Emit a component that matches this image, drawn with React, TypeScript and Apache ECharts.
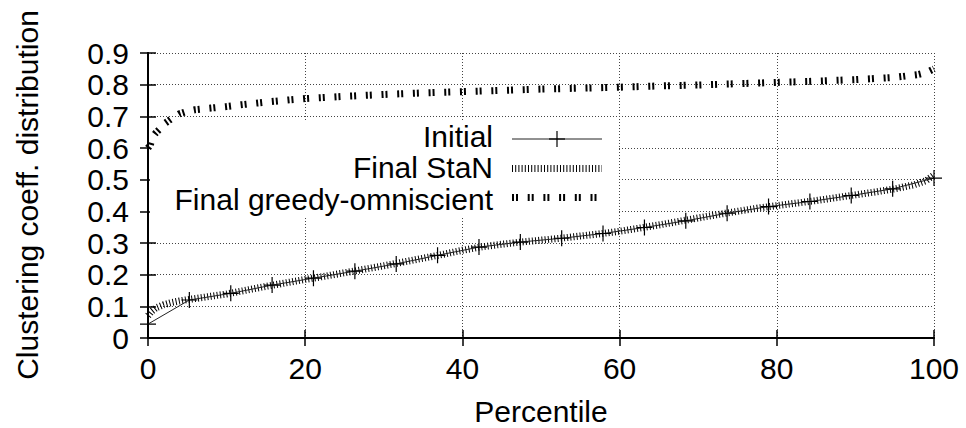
import React, { useEffect, useRef } from "react";
import * as echarts from "echarts";

// ---- data ----
const initialX = [0, 5.26, 10.53, 15.79, 21.05, 26.32, 31.58, 36.84, 42.11, 47.37, 52.63, 57.89, 63.16, 68.42, 73.68, 78.95, 84.21, 89.47, 94.74, 100];
const initialY = [0.044, 0.12, 0.141, 0.167, 0.189, 0.211, 0.234, 0.261, 0.287, 0.303, 0.315, 0.33, 0.349, 0.37, 0.394, 0.415, 0.431, 0.45, 0.471, 0.505];

const stanX = [0, 0.5, 1, 2, 3, 4, 5, 7.5, 10, 12.5, 15, 17.5, 20, 22.5, 25, 27.5, 30, 32.5, 35, 37.5, 40, 42.5, 45, 47.5, 50, 52.5, 55, 57.5, 60, 62.5, 65, 67.5, 70, 72.5, 75, 77.5, 80, 82.5, 85, 87.5, 90, 92.5, 95, 97.5, 99, 100];
const stanY = [0.07, 0.085, 0.095, 0.105, 0.112, 0.117, 0.121, 0.13, 0.139, 0.151, 0.163, 0.174, 0.185, 0.195, 0.206, 0.217, 0.228, 0.24, 0.252, 0.264, 0.277, 0.288, 0.296, 0.303, 0.309, 0.315, 0.322, 0.329, 0.337, 0.347, 0.357, 0.368, 0.379, 0.39, 0.4, 0.41, 0.418, 0.426, 0.434, 0.443, 0.452, 0.461, 0.471, 0.484, 0.497, 0.515];

const greedyX = [0, 0.3, 0.6, 1, 1.5, 2, 3, 4, 5, 6, 8, 10, 12, 15, 18, 20, 25, 30, 35, 40, 45, 50, 55, 60, 65, 70, 75, 80, 85, 90, 95, 98, 99, 100];
const greedyY = [0.6, 0.61, 0.635, 0.648, 0.66, 0.675, 0.693, 0.708, 0.716, 0.721, 0.726, 0.731, 0.737, 0.745, 0.752, 0.756, 0.763, 0.769, 0.774, 0.778, 0.782, 0.786, 0.789, 0.792, 0.796, 0.799, 0.803, 0.807, 0.811, 0.816, 0.823, 0.832, 0.838, 0.85];

const seriesNames = ["Initial", "Final StaN", "Final greedy-omniscient"];
const xTitle = "Percentile";
const yTitle = "Clustering coeff. distribution";

const FONT = '"Liberation Sans", Arial, Helvetica, sans-serif';
const CROSS = "path://M7.4,0H8.6V7.4H16V8.6H8.6V16H7.4V8.6H0V7.4H7.4Z";
const STAN_DASH = [1, 2.2];
const GREEDY_DASH = [2, 2, 2, 9.7];

const zip = (xs: number[], ys: number[]) => xs.map((x, i) => [x, ys[i]]);

export default function App() {
  const ref = useRef<HTMLDivElement>(null);
  useEffect(() => {
    document.body.style.margin = "0";
    if (!ref.current) return;
    const chart = echarts.init(ref.current, null, { renderer: "svg" });
    const axisLine = { show: true, lineStyle: { color: "#000", width: 2 } };
    const tick = { show: true, inside: true, length: 8, lineStyle: { color: "#000", width: 1.5 } };
    const grid = { show: true, lineStyle: { color: "#444", width: 1, type: [1, 2] } };
    const xBase = { type: "value", min: 0, max: 100, interval: 20 };
    const yBase = { type: "value", min: 0, max: 0.9, interval: 0.1 };
    const legendTextStyle = { font: `30px ${FONT}`, fill: "#000", textAlign: "right", textVerticalAlign: "middle" };
    chart.setOption({
      animation: false,
      grid: { left: 148, right: 32, top: 53, bottom: 90 },
      xAxis: [
        {
          ...xBase,
          position: "bottom",
          axisLine,
          axisTick: tick,
          splitLine: grid,
          axisLabel: { color: "#000", fontSize: 30, fontFamily: FONT, margin: 15 },
        },
        { ...xBase, position: "top", axisLine, axisTick: tick, splitLine: { show: false }, axisLabel: { show: false } },
      ],
      yAxis: [
        {
          ...yBase,
          position: "left",
          axisLine,
          axisTick: tick,
          splitLine: grid,
          axisLabel: { color: "#000", fontSize: 30, fontFamily: FONT, margin: 19 },
        },
        { ...yBase, position: "right", axisLine, axisTick: tick, splitLine: { show: false }, axisLabel: { show: false } },
      ],
      series: [
        {
          name: seriesNames[2],
          type: "line",
          data: zip(greedyX, greedyY),
          showSymbol: false,
          lineStyle: { color: "#000", width: 7, type: GREEDY_DASH },
          z: 3,
        },
        {
          name: seriesNames[1],
          type: "line",
          data: zip(stanX, stanY),
          showSymbol: false,
          lineStyle: { color: "#000", width: 7, type: STAN_DASH },
          z: 3,
        },
        {
          name: seriesNames[0],
          type: "line",
          data: zip(initialX, initialY),
          symbol: CROSS,
          symbolSize: 16,
          showAllSymbol: true,
          itemStyle: { color: "#000" },
          lineStyle: { color: "#222", width: 1 },
          z: 4,
        },
      ],
      graphic: [
        { type: "rect", z: 1, shape: { x: 150, y: 122, width: 468, height: 94 }, style: { fill: "#fff" } },
        { type: "text", z: 5, x: 493, y: 136, style: { ...legendTextStyle, text: seriesNames[0] } },
        { type: "text", z: 5, x: 493, y: 167.5, style: { ...legendTextStyle, text: seriesNames[1] } },
        { type: "text", z: 5, x: 493, y: 199, style: { ...legendTextStyle, text: seriesNames[2] } },
        { type: "line", z: 5, shape: { x1: 512, y1: 139, x2: 602, y2: 139 }, style: { stroke: "#222", lineWidth: 1 } },
        { type: "line", z: 5, shape: { x1: 557, y1: 131, x2: 557, y2: 147 }, style: { stroke: "#000", lineWidth: 1.2 } },
        { type: "line", z: 5, shape: { x1: 549, y1: 139, x2: 565, y2: 139 }, style: { stroke: "#000", lineWidth: 1.2 } },
        { type: "line", z: 5, shape: { x1: 512, y1: 168.5, x2: 602, y2: 168.5 }, style: { stroke: "#000", lineWidth: 7, lineDash: STAN_DASH } },
        { type: "line", z: 5, shape: { x1: 512, y1: 197.5, x2: 602, y2: 197.5 }, style: { stroke: "#000", lineWidth: 7, lineDash: GREEDY_DASH } },
        {
          type: "text",
          z: 5,
          x: 541,
          y: 411,
          style: { text: xTitle, font: `30px ${FONT}`, fill: "#000", textAlign: "center", textVerticalAlign: "middle" },
        },
        {
          type: "text",
          z: 5,
          x: 27.5,
          y: 195,
          rotation: Math.PI / 2,
          style: { text: yTitle, font: `30px ${FONT}`, fill: "#000", textAlign: "center", textVerticalAlign: "middle" },
        },
      ],
    });
    return () => chart.dispose();
  }, []);
  return <div ref={ref} style={{ width: 966, height: 428 }} />;
}
